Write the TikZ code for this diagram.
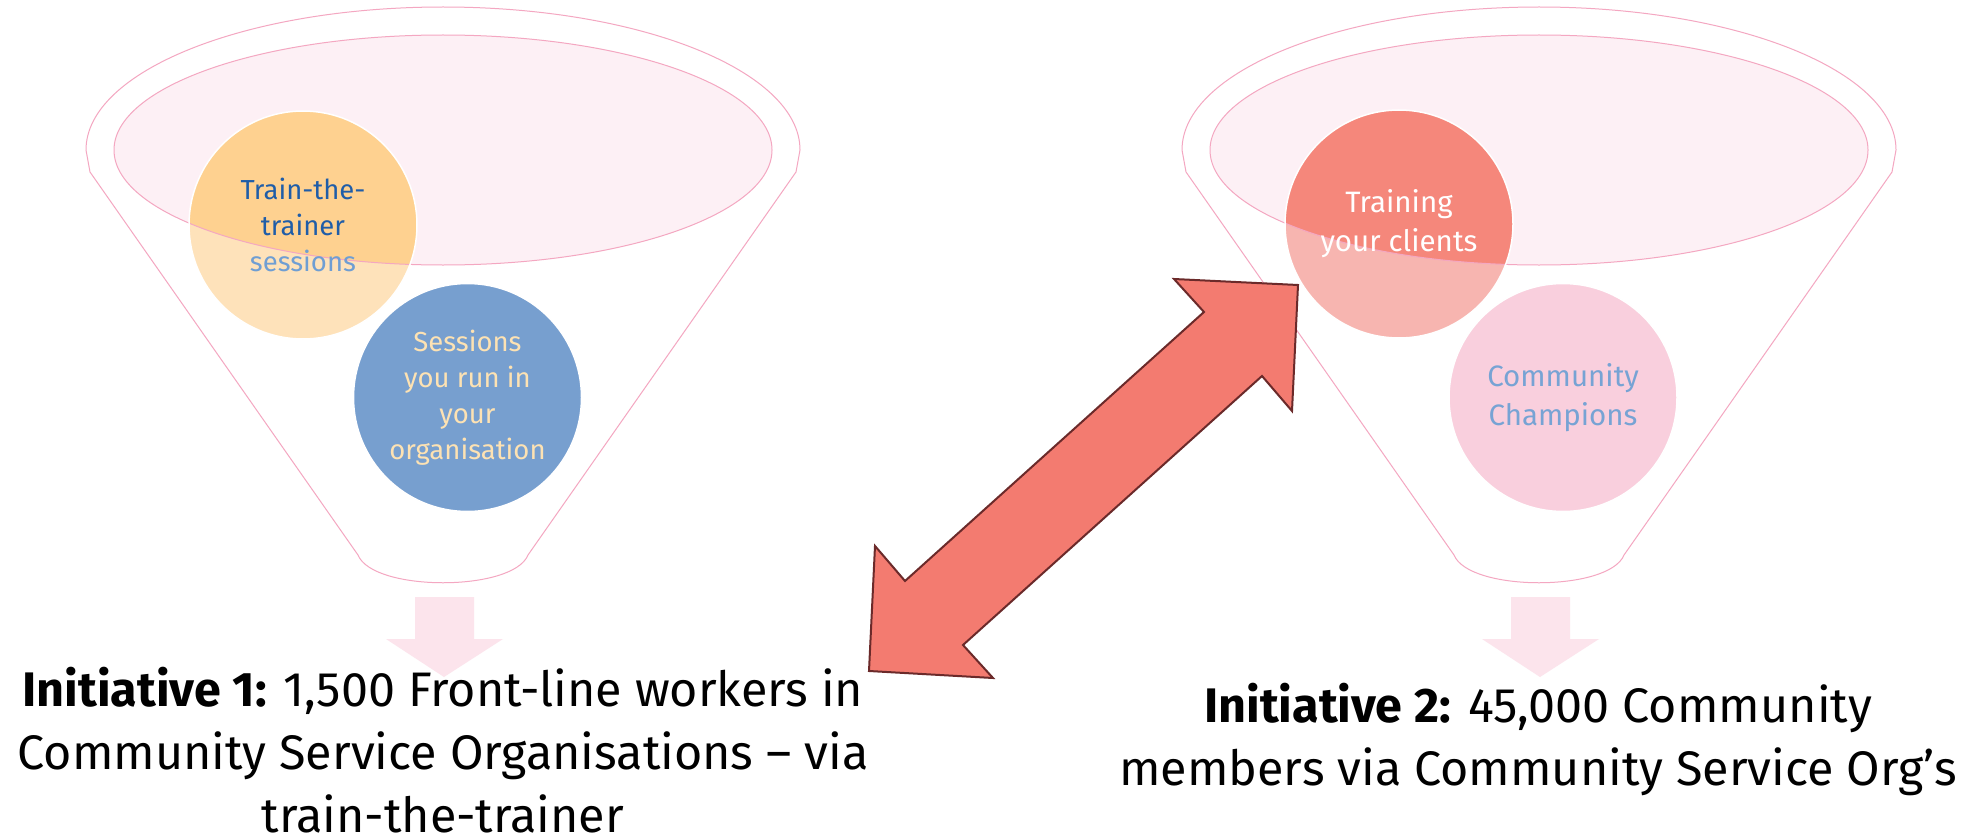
\documentclass[tikz,border=0pt]{standalone}
\usepackage{fontspec}
\setmainfont{Fira Sans}
\usepackage{xcolor}
\usepackage{tikz}
\usetikzlibrary{calc}

\definecolor{cupline}{HTML}{F4A7C1}
\definecolor{cupfill}{HTML}{FDF0F5}
\definecolor{ttin}{HTML}{FED190}
\definecolor{ttout}{HTML}{FEE2BA}
\definecolor{ttdark}{HTML}{1F5DA8}
\definecolor{ttlight}{HTML}{6F9ED3}
\definecolor{orgblue}{HTML}{779FCF}
\definecolor{orgtext}{HTML}{FDE2B3}
\definecolor{clin}{HTML}{F5877B}
\definecolor{clout}{HTML}{F7B5B0}
\definecolor{champ}{HTML}{F9CFDD}
\definecolor{champtext}{HTML}{77A3D4}
\definecolor{linkred}{HTML}{F37B70}
\definecolor{linkedge}{HTML}{6B2A2A}
\definecolor{downpink}{HTML}{FCE4EC}

\tikzset{
  ball/.style={circle, minimum size=228pt, inner sep=0pt, draw=white, line width=1.5pt, align=center},
  smalltext/.style={font=\fontsize{27.5}{36}\selectfont},
  bigtext/.style={font=\fontsize{29.5}{39}\selectfont},
  caption/.style={font=\fontsize{48.5}{63}\selectfont, align=center, inner sep=0pt, anchor=base},
  cupinside/.style={path picture={
      \fill[#1] (cup) ellipse[x radius=329pt, y radius=115pt];
      \draw[cupline, line width=1pt] (cup) ellipse[x radius=329pt, y radius=115pt];}}
}

% funnel with its cup and the arrow below; #1 = x of the axis
\newcommand{\funnelat}[1]{%
  \draw[cupline, line width=1pt] (#1-357,150) arc[start angle=180, end angle=360, x radius=357, y radius=143]
    -- (#1+353,172) -- (#1+85,555) .. controls (#1+70,592) and (#1-70,592) .. (#1-85,555)
    -- (#1-353,172) -- cycle;
  \coordinate (cup) at (#1,150);
  \draw[cupline, fill=cupfill, line width=1pt] (cup) ellipse[x radius=329, y radius=115];
  \fill[downpink] (#1-28,597) -- (#1+31,597) -- (#1+31,639) -- (#1+60,639) -- (#1+1,677)
    -- (#1-57,639) -- (#1-28,639) -- cycle;
}

\begin{document}
\begin{tikzpicture}[x=1pt, y=-1pt]
  \path[use as bounding box, fill=white] (0,0) rectangle (1972,840);

  \funnelat{443}
  \node[ball, smalltext, fill=ttout, cupinside=ttin, text=ttdark] (ttt) at (303,225)
    {Train-the-\\trainer\\\textcolor{ttlight}{sessions}};
  \node[ball, smalltext, fill=orgblue, text=orgtext] (runorg) at (467.5,397.5)
    {Sessions\\you run in\\your\\organisation};

  \funnelat{1539}
  \node[ball, bigtext, fill=clout, cupinside=clin, text=white] (clients) at (1399,224)
    {Training\\your clients};
  \node[ball, bigtext, fill=champ, text=champtext] (champions) at (1563,397.5)
    {Community\\Champions};

  \node[caption] (init1) at (443,832)
    {\textbf{Initiative 1:} 1,500 Front-line workers in\\Community Service Organisations – via\\train-the-trainer};
  \node[caption] (init2) at (1538,785)
    {\textbf{Initiative 2:} 45,000 Community\\members via Community Service Org’s};

  \draw[linkedge, fill=linkred, line width=2pt, line join=miter]
    (869,671) -- (875,546) -- (905,581) -- (1204,312) -- (1174,279) -- (1298,285)
    -- (1292,411) -- (1262,376) -- (963,645) -- (993,678) -- cycle;
\end{tikzpicture}
\end{document}
